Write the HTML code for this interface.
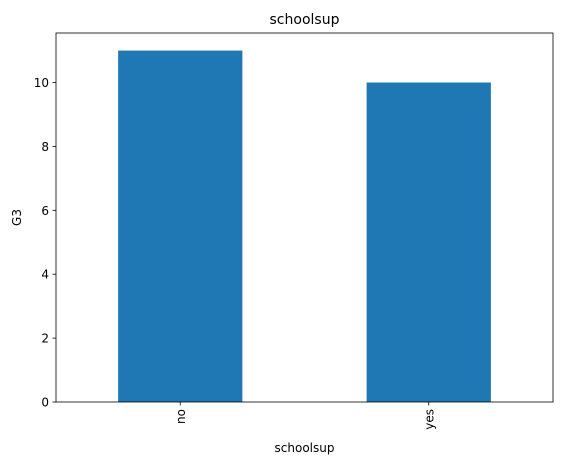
<!DOCTYPE html>
<html><head><meta charset="utf-8"><style>
body{margin:0;background:#fff;}
svg text{font-family:"DejaVu Sans","Liberation Sans",sans-serif;fill:#000;}
</style></head><body>
<svg width="562" height="465" viewBox="0 0 562 465" xmlns="http://www.w3.org/2000/svg">
<rect width="562" height="465" fill="#fff"/>
<g id="plot"></g>
</svg>
<script>
const categories = ["no", "yes"];
const values = [11, 10];
const yTicks = [0, 2, 4, 6, 8, 10];
const L = 56, R = 553, T = 33, B = 402;
const yMax = 11.55;
const NS = "http://www.w3.org/2000/svg";
const g = document.getElementById('plot');
function y(v){ return B - v / yMax * (B - T); }
function x(i){ return L + (i + 0.5) / categories.length * (R - L); }
function mk(tag, attrs, text){
  const e = document.createElementNS(NS, tag);
  for (const k in attrs) e.setAttribute(k, attrs[k]);
  if (text !== undefined) e.textContent = text;
  g.appendChild(e); return e;
}
const bw = (R - L) / categories.length * 0.5;
categories.forEach((c, i) => {
  const b = mk('rect', {x: x(i) - bw/2, y: y(values[i]), width: bw, height: B - y(values[i]), fill: '#1f77b4'});
  
  
  const t = mk('line', {x1: x(i), x2: x(i), y1: B, y2: B + 3.5, stroke: '#000', 'stroke-width': 0.8});
  
  
  const lb = mk('text', {x: 0, y: 0, 'font-size': 12, 'text-anchor': 'end', transform: `translate(${x(i)+4.5},${B+7}) rotate(-90)`}, c);
  
  
});
yTicks.forEach(v => {
  const t = mk('line', {x1: L - 3.5, x2: L, y1: y(v), y2: y(v), stroke: '#000', 'stroke-width': 0.8});
  
  
  const lb = mk('text', {x: L - 7, y: y(v) + 4.5, 'font-size': 12, 'text-anchor': 'end'}, v);
  
  
});
const frame = mk('rect', {x: L, y: T, width: R - L, height: B - T, fill: 'none', stroke: '#000', 'stroke-width': 0.8});


const title = mk('text', {x: (L + R) / 2, y: 24, 'font-size': 14, 'text-anchor': 'middle'}, 'schoolsup');


const xl = mk('text', {x: (L + R) / 2, y: 452, 'font-size': 12, 'text-anchor': 'middle'}, 'schoolsup');


const yl = mk('text', {x: 0, y: 0, 'font-size': 12, 'text-anchor': 'middle', transform: `translate(21,${(T + B) / 2}) rotate(-90)`}, 'G3');


</script>
</body></html>
